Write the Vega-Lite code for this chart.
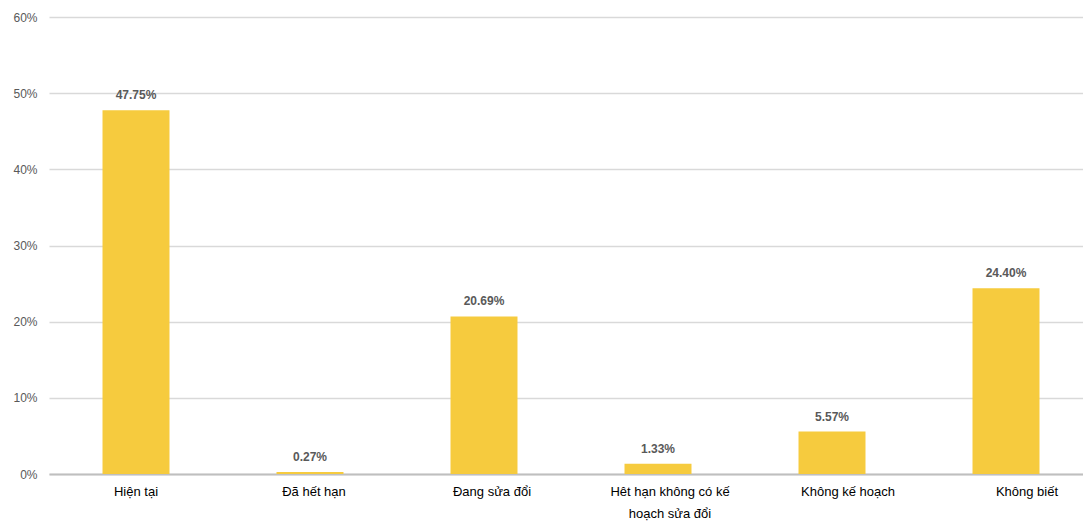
{
  "$schema": "https://vega.github.io/schema/vega-lite/v6.json",
  "autosize": {"type": "none"},
  "width": 1044,
  "height": 457,
  "padding": {"left": 49, "top": 17, "right": 0, "bottom": 47},
  "background": "white",
  "config": {"view": {"stroke": null}, "font": "Liberation Sans"},
  "data": {
    "values": [
      {"cat": "Hiện tại", "v": 0.4775},
      {"cat": "Đã hết hạn", "v": 0.0027},
      {"cat": "Đang sửa đổi", "v": 0.2069},
      {"cat": "Hêt hạn không có kế hoạch sửa đổi", "v": 0.0133},
      {"cat": "Không kế hoạch", "v": 0.0557},
      {"cat": "Không biết", "v": 0.244}
    ]
  },
  "encoding": {
    "x": {
      "field": "cat",
      "type": "nominal",
      "sort": null,
      "scale": {"paddingInner": 0.615, "paddingOuter": 0.3075},
      "axis": {
        "title": null,
        "labelAngle": 0,
        "labelFontSize": 13,
        "labelColor": "#000000",
        "labelPadding": 11,
        "labelLineHeight": 22,
        "labelBaseline": "top",
        "ticks": false,
        "domainColor": "#BFBFBF",
        "domainWidth": 2,
        "labelOffset": {
          "condition": [
            {"test": "datum.value == 'Đã hết hạn'", "value": 4},
            {"test": "datum.value == 'Đang sửa đổi'", "value": 8},
            {"test": "datum.value == 'Hêt hạn không có kế hoạch sửa đổi'", "value": 12},
            {"test": "datum.value == 'Không kế hoạch'", "value": 16},
            {"test": "datum.value == 'Không biết'", "value": 21}
          ],
          "value": 0
        },
        "labelExpr": "datum.value == 'Hêt hạn không có kế hoạch sửa đổi' ? ['Hêt hạn không có kế', 'hoạch sửa đổi'] : datum.value"
      }
    },
    "y": {
      "field": "v",
      "type": "quantitative",
      "scale": {"domain": [0, 0.6]},
      "axis": {
        "title": null,
        "format": ".0%",
        "values": [0, 0.1, 0.2, 0.3, 0.4, 0.5, 0.6],
        "domain": false,
        "ticks": false,
        "labelPadding": 12,
        "labelFontSize": 12,
        "labelColor": "#595959",
        "gridColor": "#D9D9D9",
        "gridWidth": 1.5
      }
    }
  },
  "layer": [
    {"mark": {"type": "bar", "color": "#F6CB3E"}},
    {
      "mark": {"type": "text", "baseline": "bottom", "dy": -8, "fontSize": 12, "fontWeight": "bold", "color": "#595959"},
      "encoding": {"text": {"field": "v", "type": "quantitative", "format": ".2%"}}
    }
  ]
}
